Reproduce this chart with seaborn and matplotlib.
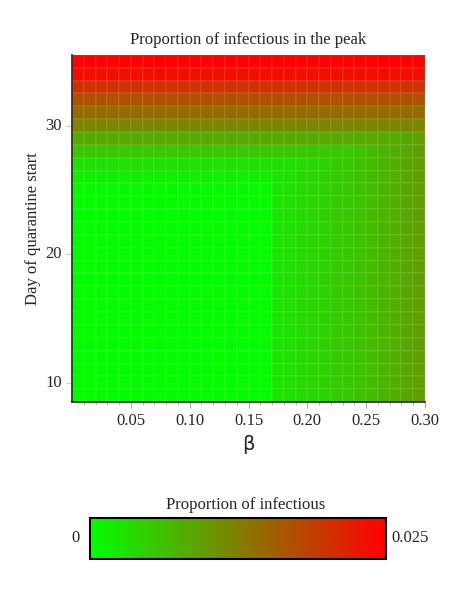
import numpy as np
import pandas as pd
import seaborn as sns
import matplotlib.pyplot as plt
from matplotlib.colors import LinearSegmentedColormap

# peak proportion of infectious vs day of quarantine start (small beta)
days = list(range(9, 36))
peak_by_day = [0.0003, 0.0003, 0.0003, 0.0003, 0.0003, 0.0003, 0.0003, 0.0003,
               0.0003, 0.0003, 0.0003, 0.0003, 0.0003, 0.0003, 0.0003, 0.0004,
               0.0007, 0.0015, 0.003, 0.0055, 0.0085, 0.012, 0.0145, 0.017,
               0.020, 0.0235, 0.025]

# peak proportion vs beta (early quarantine), columns 0.01 wide
betas = [round(0.005 + 0.01 * i, 3) for i in range(30)]
peak_by_beta = [0.0003] * 17 + [0.0026, 0.0031, 0.0036, 0.004, 0.0045,
                                0.005, 0.0055, 0.006, 0.0066, 0.0073, 0.008,
                                0.0086, 0.0093]

grid = pd.DataFrame(np.maximum.outer(peak_by_day, peak_by_beta),
                    index=days, columns=betas)
grid = grid.iloc[::-1]  # latest day on top

cmap = LinearSegmentedColormap.from_list("gr", ["#00ff00", "#ff0000"])

sns.set_style("white")
plt.rcParams['font.family'] = ['Liberation Serif', 'DejaVu Sans']

fig = plt.figure(figsize=(4.65, 6.02), dpi=100)
ax = fig.add_axes([0.155, 0.332, 0.759, 0.577])
cax = fig.add_axes([0.193, 0.072, 0.637, 0.068])

sns.heatmap(grid, ax=ax, cmap=cmap, vmin=0, vmax=0.025, cbar_ax=cax,
            cbar_kws={"orientation": "horizontal"},
            linewidths=0.3, linecolor=(1, 1, 1, 0.06))

# axes in data units: column edges 0..30 -> beta 0..0.30, rows days 8.5..35.5
n = len(days)
ax.set_xlim(0, 30)
ax.set_ylim(n, 0)
xt = [0.05, 0.10, 0.15, 0.20, 0.25, 0.30]
ax.set_xticks([v / 0.01 for v in xt])
ax.set_xticklabels([f"{v:.2f}" for v in xt], rotation=0, fontsize=12)
ax.set_xticks(np.arange(1, 30), minor=True)
yt = [10, 20, 30]
ax.set_yticks([35.5 - d for d in yt])
ax.set_yticklabels([str(d) for d in yt], rotation=0, fontsize=12)
ax.tick_params(axis="x", which="major", length=4, color="#aaaaaa", bottom=True)
ax.tick_params(axis="x", which="minor", length=2, color="#aaaaaa", bottom=True)
ax.tick_params(axis="y", length=4, color="#cccccc", left=True)
for side in ["left", "bottom"]:
    ax.spines[side].set_visible(True)
    ax.spines[side].set_color("#333333")
    ax.spines[side].set_linewidth(1.3)

ax.set_title("Proportion of infectious in the peak", fontsize=12, pad=8)
ax.set_xlabel("β", fontsize=14, family="DejaVu Sans", labelpad=5)
ax.set_ylabel("Day of quarantine start", fontsize=12, labelpad=3)

cb = ax.collections[0].colorbar
cb.set_ticks([])
cb.outline.set_visible(True)
cb.outline.set_edgecolor("black")
cb.outline.set_linewidth(1.5)
cax.set_title("Proportion of infectious", fontsize=12, pad=6, x=0.527)
cax.text(-0.035, 0.5, "0", transform=cax.transAxes, ha="right", va="center", fontsize=12)
cax.text(1.02, 0.5, "0.025", transform=cax.transAxes, ha="left", va="center", fontsize=12)

fig.savefig("out.png", dpi=100)
